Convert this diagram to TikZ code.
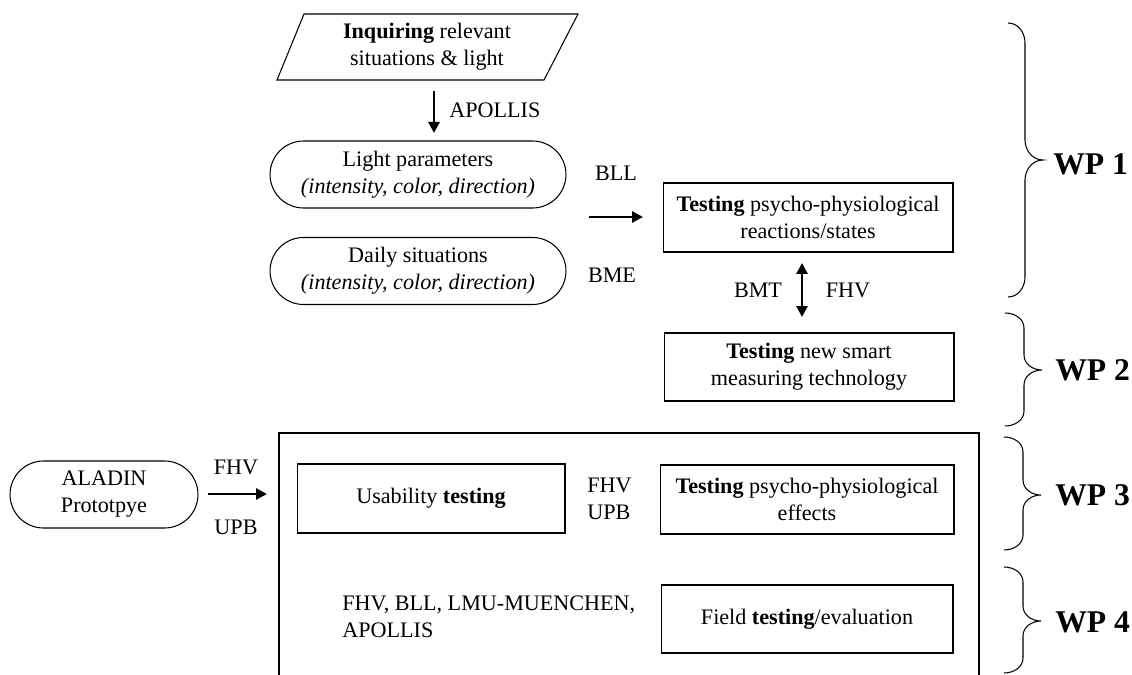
\documentclass[tikz,border=0pt]{standalone}
\usepackage{fontspec}
\setmainfont{Liberation Serif}
\usetikzlibrary{arrows.meta,shapes.misc}
\begin{document}
\begin{tikzpicture}[x=0.02cm,y=-0.02cm,
  txt/.style={font=\fontsize{12.6}{15.4}\selectfont, inner sep=0pt, align=center},
  box/.style={txt, draw, line width=0.6pt, rectangle},
  stad/.style={txt, draw, line width=0.6pt, rounded rectangle},
  arr/.style={line width=1.6pt, -{Triangle[length=0.22cm,width=0.22cm]}},
  darr/.style={line width=1.6pt, {Triangle[length=0.22cm,width=0.22cm]}-{Triangle[length=0.22cm,width=0.22cm]}},
  wp/.style={font=\fontsize{18}{21}\selectfont\bfseries, inner sep=0pt, anchor=west},
  wpbrace/.style={line width=0.6pt},
  frame/.style={line width=0.6pt}
]
\path[use as bounding box] (0,0) rectangle (1132,675);

% WP1 region
\node[txt, minimum width=5.48cm, minimum height=1.32cm] (inq) at (427,47) {\textbf{Inquiring} relevant\\situations \& light};
\draw[frame] (277,80) -- (304,14) -- (578,14) -- (544,80) -- cycle;

\node[stad, minimum width=5.92cm, minimum height=1.34cm] (lp) at (418,174.5) {Light parameters\\\textit{(intensity, color, direction)}};
\node[stad, minimum width=5.92cm, minimum height=1.34cm] (ds) at (418,271) {Daily situations\\\textit{(intensity, color, direction)}};

\node[txt, anchor=west] (apo) at (449,110) {APOLLIS};
\node[txt] (bll) at (616,173) {BLL};
\node[txt] (bme) at (612,275) {BME};

\node[box, minimum width=5.8cm, minimum height=1.38cm] (t1) at (808,217.5) {\textbf{Testing} psycho-physiological\\reactions/states};
\node[txt] (bmt) at (758,290) {BMT};
\node[txt] (fhva) at (848,290) {FHV};

% WP2
\node[box, minimum width=5.8cm, minimum height=1.36cm] (t2) at (809,367) {\textbf{Testing} new smart\\measuring technology};

% big frame
\draw[frame] (279,680) -- (279,433) -- (979,433) -- (979,680);

% WP3/WP4
\node[stad, minimum width=3.76cm, minimum height=1.34cm] (ala) at (104,494.5) {ALADIN\\Prototpye};
\node[txt] (fhvb) at (236,467) {FHV};
\node[txt] (upbb) at (236,527) {UPB};
\node[box, minimum width=5.36cm, minimum height=1.38cm] (use) at (431,498.5) {Usability \textbf{testing}};
\node[txt, align=left, anchor=west] (fu) at (587,498.5) {FHV\\UPB};
\node[box, minimum width=5.88cm, minimum height=1.38cm] (eff) at (807,499.5) {\textbf{Testing} psycho-physiological\\effects};
\node[txt, align=left, anchor=west] (part) at (342,617) {FHV, BLL, LMU-MUENCHEN,\\APOLLIS};
\node[box, minimum width=5.84cm, minimum height=1.36cm] (fld) at (807,619) {Field \textbf{testing}/evaluation};

% arrows
\coordinate (a1s) at (434,91);  \coordinate (a1e) at (434,133);
\coordinate (a2s) at (589,217); \coordinate (a2e) at (643,217);
\coordinate (a3s) at (802,263); \coordinate (a3e) at (802,317);
\coordinate (a4s) at (208,494); \coordinate (a4e) at (267,494);
\draw[arr] (a1s) -- (a1e);
\draw[arr] (a2s) -- (a2e);
\draw[darr] (a3s) -- (a3e);
\draw[arr] (a4s) -- (a4e);

% braces
\draw[wpbrace] (1008,23) to[out=0,in=90] (1025,43) -- (1025,140) to[out=-90,in=180] (1043,160)
  to[out=180,in=90] (1025,180) -- (1025,277) to[out=-90,in=0] (1008,297);
\draw[wpbrace] (1005,313) to[out=0,in=90] (1024,328) -- (1024,355) to[out=-90,in=180] (1042,370)
  to[out=180,in=90] (1024,385) -- (1024,411) to[out=-90,in=0] (1005,426);
\draw[wpbrace] (1004,437) to[out=0,in=90] (1023,452) -- (1023,480) to[out=-90,in=180] (1041,495)
  to[out=180,in=90] (1023,510) -- (1023,535) to[out=-90,in=0] (1004,550);
\draw[wpbrace] (1004,567) to[out=0,in=90] (1023,582) -- (1023,606) to[out=-90,in=180] (1041,621)
  to[out=180,in=90] (1023,636) -- (1023,658) to[out=-90,in=0] (1004,673);

\node[wp] (wp1) at (1053,164) {WP 1};
\node[wp] (wp2) at (1055,370) {WP 2};
\node[wp] (wp3) at (1055,495) {WP 3};
\node[wp] (wp4) at (1055,622) {WP 4};
\end{tikzpicture}
\end{document}
